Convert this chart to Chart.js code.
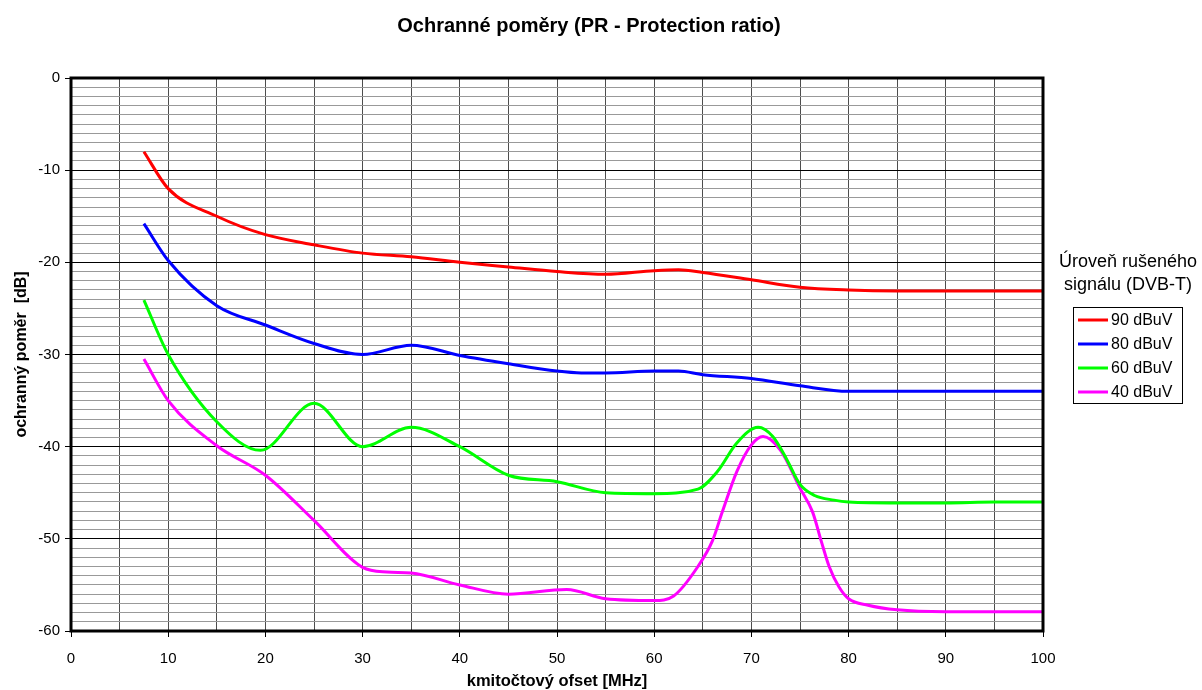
<!DOCTYPE html>
<html>
<head>
<meta charset="utf-8">
<script src="https://cdn.jsdelivr.net/npm/chart.js@4/dist/chart.umd.min.js"></script>
<style>
  html, body { margin: 0; padding: 0; background: #fff; }
  #wrap { width: 1202px; height: 690px; }
</style>
</head>
<body>
<div id="wrap"><canvas id="prChart" width="1202" height="690"></canvas></div>
<script>
// hodnoty (kmitočtový ofset [MHz] / ochranný poměr [dB])
const seriesLabels = ['90 dBuV', '80 dBuV', '60 dBuV', '40 dBuV'];
const seriesColors = ['#ff0000', '#0000ff', '#00ff00', '#ff00ff'];

const ofset90 = [7.5, 10, 15, 20, 25, 30, 35, 40, 45, 50, 55, 60, 62.5, 65, 70, 75, 80, 85, 90, 95, 100];
const pr90 = [-8, -12, -15, -17, -18.1, -19, -19.4, -20, -20.5, -21, -21.3, -20.9, -20.8, -21.1, -21.9, -22.7, -23, -23.1, -23.1, -23.1, -23.1];

const ofset80 = [7.5, 10, 15, 20, 25, 30, 35, 40, 45, 50, 52.5, 55, 60, 62.5, 65, 70, 75, 80, 85, 90, 95, 100];
const pr80 = [-15.8, -19.8, -24.7, -26.8, -28.8, -30, -29, -30.1, -31, -31.8, -32, -32, -31.8, -31.8, -32.2, -32.6, -33.4, -34, -34, -34, -34, -34];

const ofset60 = [7.5, 10, 15, 19.5, 25, 30, 35, 40, 45, 50, 55, 60, 64.5, 66.5, 68.5, 70.7, 72.2, 73.6, 75, 76.5, 78.5, 80, 85, 90, 95, 100];
const pr60 = [-24.1, -30, -37.3, -40.4, -35.3, -40, -37.9, -40, -43.1, -43.8, -45, -45.1, -44.6, -42.7, -39.6, -37.9, -38.9, -41.3, -44.1, -45.3, -45.8, -46, -46.1, -46.1, -46, -46];

const ofset40 = [7.5, 10, 15, 20, 25, 30, 32.5, 35, 40, 45, 51, 55, 60, 62, 64.5, 66, 67, 68.5, 70, 71.2, 73, 75, 76.3, 77.2, 78, 79, 80, 82, 85, 90, 95, 100];
const pr40 = [-30.5, -35, -39.9, -43.1, -48, -53.1, -53.6, -53.7, -55, -56, -55.5, -56.5, -56.7, -56.2, -53, -50.2, -47.1, -42.7, -39.8, -38.9, -40.4, -44.5, -47.1, -50.3, -53, -55.2, -56.5, -57.2, -57.7, -57.9, -57.9, -57.9];

const xTicksMin = 0, xTicksMax = 100;
const yTicksMin = -60, yTicksMax = 0;

const chartTitle = 'Ochranné poměry (PR - Protection ratio)';
const legendTitle = ['Úroveň rušeného', 'signálu (DVB-T)'];

const FONT = 'Arial, "Liberation Sans", sans-serif';

function toPoints(xs, ys) {
    return xs.map((x, i) => ({ x: x, y: ys[i] }));
}

const allX = [ofset90, ofset80, ofset60, ofset40];
const allY = [pr90, pr80, pr60, pr40];

const datasets = seriesLabels.map((label, i) => ({
    label: label,
    data: toPoints(allX[i], allY[i]),
    borderColor: seriesColors[i],
    backgroundColor: seriesColors[i],
    borderWidth: 3,
    pointRadius: 0,
    cubicInterpolationMode: 'monotone',
    fill: false
}));

// rámeček grafu, nadpis a legenda vpravo
const framePlugin = {
    id: 'frame',
    afterDatasetsDraw(chart) {
        const ctx = chart.ctx;
        const a = chart.chartArea;
        ctx.save();
        ctx.strokeStyle = '#000';
        ctx.lineWidth = 3;
        ctx.strokeRect(a.left, a.top, a.right - a.left, a.bottom - a.top);
        ctx.restore();
    },
    afterDraw(chart) {
        const ctx = chart.ctx;
        ctx.save();
        ctx.fillStyle = '#000';
        ctx.textAlign = 'center';
        ctx.textBaseline = 'middle';
        ctx.font = 'bold 20px ' + FONT;
        ctx.fillText(chartTitle, 589, 26);

        ctx.font = '18px ' + FONT;
        legendTitle.forEach((t, i) => ctx.fillText(t, 1128, 262 + i * 23));

        ctx.strokeStyle = '#000';
        ctx.lineWidth = 1;
        ctx.strokeRect(1073.5, 307.5, 109, 96);

        ctx.font = '16px ' + FONT;
        ctx.textAlign = 'left';
        chart.data.datasets.forEach((ds, i) => {
            const y = 320 + i * 24;
            ctx.strokeStyle = ds.borderColor;
            ctx.lineWidth = 3;
            ctx.beginPath();
            ctx.moveTo(1078, y);
            ctx.lineTo(1108, y);
            ctx.stroke();
            ctx.fillStyle = '#000';
            ctx.fillText(ds.label, 1111, y + 1);
        });
        ctx.restore();
    }
};

new Chart(document.getElementById('prChart'), {
    type: 'line',
    data: { datasets: datasets },
    plugins: [framePlugin],
    options: {
        responsive: false,
        animation: false,
        layout: { padding: { left: 0, right: 159, top: 78, bottom: 0 } },
        plugins: {
            legend: { display: false },
            tooltip: { enabled: false },
            title: { display: false }
        },
        scales: {
            x: {
                type: 'linear',
                min: xTicksMin,
                max: xTicksMax,
                afterFit: (s) => { s.height = 59; },
                border: { display: false },
                grid: {
                    color: '#4d4d4d',
                    lineWidth: 1,
                    tickLength: 6,
                    tickColor: (c) => (c.tick && c.tick.value % 10 === 0 ? '#000' : 'rgba(0,0,0,0)')
                },
                ticks: {
                    stepSize: 5,
                    autoSkip: false,
                    maxRotation: 0,
                    padding: 13,
                    color: '#000',
                    font: { family: FONT, size: 15 },
                    callback: (v) => (v % 10 === 0 ? v : '')
                },
                title: {
                    display: true,
                    text: 'kmitočtový ofset [MHz]',
                    color: '#000',
                    font: { family: FONT, size: 16.5, weight: 'bold', lineHeight: 1 },
                    padding: { top: 0, bottom: 0 }
                }
            },
            y: {
                type: 'linear',
                min: yTicksMin,
                max: yTicksMax,
                afterFit: (s) => { s.width = 71; },
                border: { display: false },
                grid: {
                    color: (c) => (c.tick && c.tick.value % 10 === 0 ? '#000' : '#999999'),
                    lineWidth: 1,
                    tickLength: 6,
                    tickColor: (c) => (c.tick && c.tick.value % 10 === 0 ? '#000' : 'rgba(0,0,0,0)')
                },
                ticks: {
                    stepSize: 1,
                    autoSkip: false,
                    padding: 5,
                    color: '#000',
                    font: { family: FONT, size: 15 },
                    callback: (v) => (v % 10 === 0 ? v : '')
                },
                title: {
                    display: true,
                    text: 'ochranný poměr  [dB]',
                    color: '#000',
                    font: { family: FONT, size: 16, weight: 'bold' },
                    padding: { top: 12, bottom: 0 }
                }
            }
        }
    }
});
</script>
</body>
</html>
